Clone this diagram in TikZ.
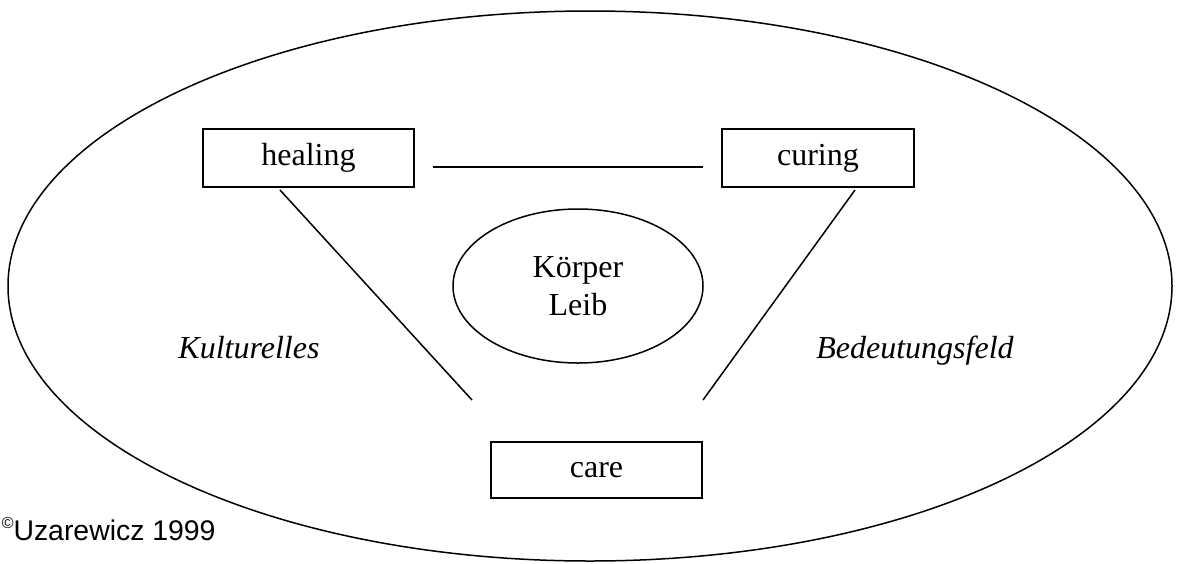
\documentclass[tikz,border=0pt]{standalone}
\usepackage{fontspec}
\setmainfont{Liberation Serif}
\newfontfamily\copyfont{Liberation Sans}
\usetikzlibrary{shapes.geometric}
\tikzset{box/.style={draw, line width=1pt, minimum width=105.5pt, minimum height=29pt, inner sep=0pt, font=\fontsize{16}{19}\selectfont}}
\tikzset{field/.style={anchor=base, inner sep=0pt, font=\fontsize{16}{19}\selectfont\itshape}}

\begin{document}
\begin{tikzpicture}[x=0.5pt, y=-0.5pt, line width=0.75pt]
    \useasboundingbox (0,0) rectangle (1179,563);
    \node (rim) [draw, ellipse, inner sep=0pt, minimum width=582pt, minimum height=275pt] at (590,286) {};
    \node (healing) [box] at (308.5,158) {healing};
    \node (curing) [box, minimum width=96pt] at (818,158) {curing};
    \node (care) [box, minimum height=28pt] at (596.5,470) {care};
    \node (body) [draw, ellipse, inner sep=0pt, minimum width=125pt, minimum height=77pt, align=center, font=\fontsize{16}{19}\selectfont] at (578,286) {Körper\\Leib};
    \node (kult) [field] at (249,358) {Kulturelles};
    \node (bedeut) [field] at (915,358) {Bedeutungsfeld};
    \node (copy) [anchor=base west, inner sep=0pt, font=\copyfont\fontsize{14.2}{16}\selectfont] at (1,540) {\raisebox{0.75ex}{\fontsize{8}{8}\selectfont ©}Uzarewicz 1999};

    \coordinate (t1) at (433,167);
    \coordinate (t2) at (703,167);
    \coordinate (h1) at (280,190);
    \coordinate (h2) at (472,400);
    \coordinate (c1) at (855,190);
    \coordinate (c2) at (703,400);

    \path [draw] (t1) -- (t2);
    \path [draw] (h1) -- (h2);
    \path [draw] (c1) -- (c2);
\end{tikzpicture}
\end{document}
